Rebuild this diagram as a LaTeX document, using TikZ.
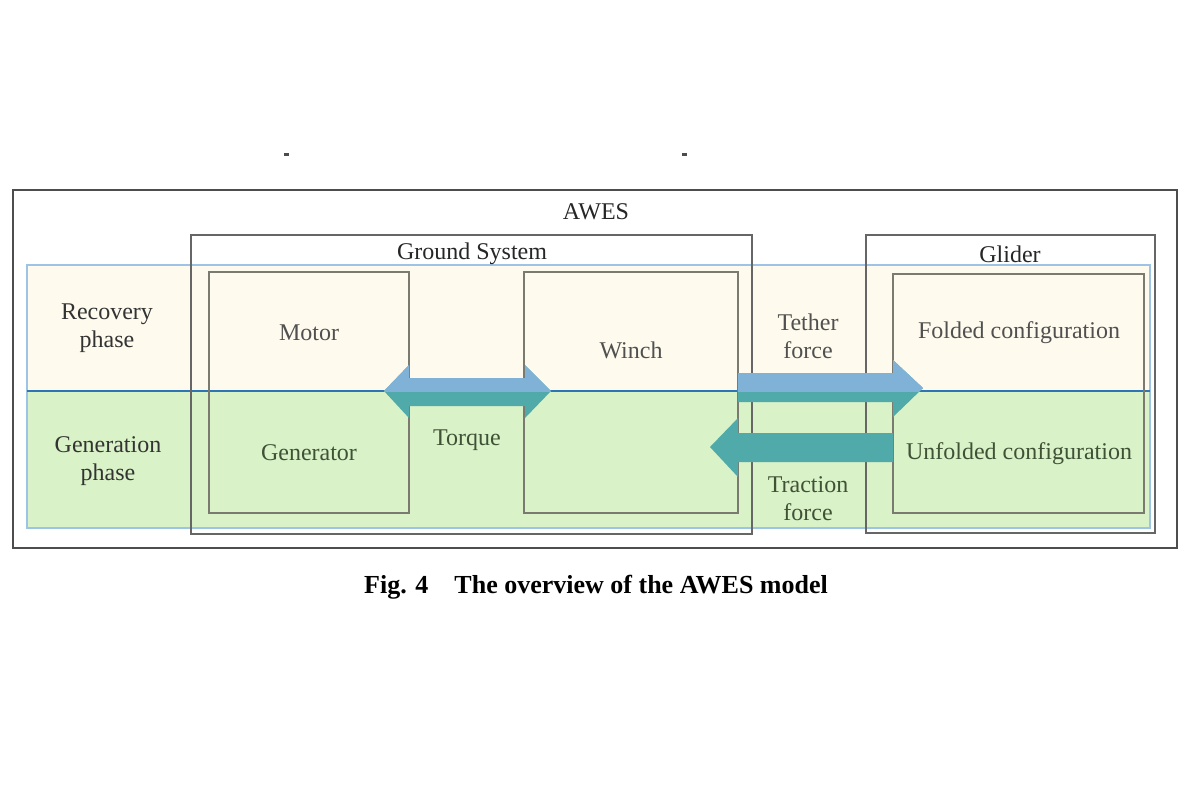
\documentclass[tikz,border=0pt]{standalone}
\usepackage{fontspec}
\setmainfont{Liberation Serif}
\usetikzlibrary{positioning}

\definecolor{frameline}{HTML}{4D4D4D}
\definecolor{boxline}{HTML}{7A7A70}
\definecolor{bandline}{HTML}{9DC3E6}
\definecolor{splitline}{HTML}{2E75B6}
\definecolor{recfill}{HTML}{FEFAEE}
\definecolor{genfill}{HTML}{D9F2C8}
\definecolor{arrblue}{HTML}{7FB2D6}
\definecolor{arrteal}{HTML}{50AAAA}
\definecolor{txtgray}{HTML}{505050}
\definecolor{txtgreen}{HTML}{3F5236}

\tikzset{
  box/.style={draw=boxline, line width=0.6pt, inner sep=0pt},
  lbl/.style={font=\fontsize{12}{14}\selectfont, align=center, inner sep=0pt},
}

\begin{document}
\begin{tikzpicture}[x=0.5pt,y=-0.5pt]
        \useasboundingbox (0,0) rectangle (1200,800);
        % phases
        \fill [recfill] (27,265) rectangle (1150,391);
        \fill [genfill] (27,391) rectangle (1150,528);
        \draw [bandline, line width=0.6pt] (27,265) rectangle (1150,528);
        \draw [splitline, line width=1pt] (27,391) -- (1150,391);
        \node [lbl, text=black!80] (rec) at (107,328) {Recovery\\phase};
        \node [lbl, text=black!80] (gen) at (108,461) {Generation\\phase};
        % frames
        \node [draw=frameline, line width=1.2pt, inner sep=0pt, minimum width=582pt, minimum height=179pt] (awes) at (595,369) {};
        \node [lbl, text=black!85] (awest) at (596,212) {AWES};
        \node [draw=black!60, line width=0.8pt, inner sep=0pt, minimum width=280.5pt, minimum height=149.5pt] (ground) at (471.5,384.5) {};
        \node [lbl, text=black!85] (groundt) at (472,254) {Ground System};
        \node [draw=black!60, line width=0.8pt, inner sep=0pt, minimum width=144.5pt, minimum height=149pt] (glider) at (1010.5,384) {};
        \node [lbl, text=black!85] (glidert) at (1010,254) {Glider};
        % blocks
        \node [box, minimum width=100pt, minimum height=120.5pt] (motor) at (309,392.5) {};
        \node [box, minimum width=107pt, minimum height=120.5pt] (winch) at (631,392.5) {};
        \node [box, minimum width=125.5pt, minimum height=119.5pt] (config) at (1018.5,393.5) {};
        \node [lbl, text=txtgray] (motort) at (309,333) {Motor};
        \node [lbl, text=txtgreen] (generator) at (309,453) {Generator};
        \node [lbl, text=txtgray] (wincht) at (631,350) {Winch};
        \node [lbl, text=txtgreen] (torque) at (467,440) {Torque};
        \node [lbl, text=txtgray] (tether) at (808,336) {Tether\\force};
        \node [lbl, text=txtgreen] (traction) at (808,499) {Traction\\force};
        \node [lbl, text=txtgray] (folded) at (1019,333) {Folded configuration};
        \node [lbl, text=txtgreen] (unfolded) at (1019,454) {Unfolded configuration};
        % block arrows, upper half blue
        \foreach \c/\ymax in {arrteal/800, arrblue/391} {
          \begin{scope}
            \clip (0,0) rectangle (1200,\ymax);
            \fill [\c] (384,391) -- (409,365) -- (409,378) -- (525,378) -- (525,365) -- (551,391)
                       -- (525,418) -- (525,406) -- (409,406) -- (409,418) -- cycle;
            \fill [\c] (738,373) -- (893,373) -- (893,360) -- (923,388) -- (893,417) -- (893,402)
                       -- (738,402) -- cycle;
          \end{scope}
        }
        \fill [arrteal] (893,433) -- (738,433) -- (738,418) -- (710,447) -- (738,477) -- (738,462)
                        -- (893,462) -- cycle;
        % stray marks
        \fill [black!70] (284,153) rectangle (289,155.5);
        \fill [black!70] (682,153) rectangle (687,155.5);
        % caption
        \node [font=\fontsize{13}{15}\selectfont\bfseries, inner sep=0pt] (caption) at (596,587) {Fig. 4\quad The overview of the AWES model};
\end{tikzpicture}
\end{document}
